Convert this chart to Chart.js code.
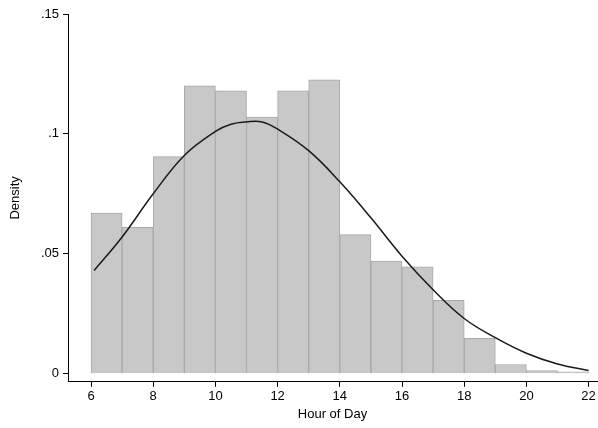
<!DOCTYPE html>
<html><head><script src="https://cdn.jsdelivr.net/npm/chart.js@4"></script>
<style>body{margin:0;background:#fff}#w{width:598px;height:428px}</style></head>
<body><div id="w"><canvas id="c"></canvas></div>
<script>
const binStarts=[6,7,8,9,10,11,12,13,14,15,16,17,18,19,20,21];
const density=[0.067,0.061,0.0905,0.12,0.118,0.107,0.118,0.1225,0.058,0.047,0.0445,0.0306,0.0147,0.0038,0.0013,0.0008];
const kdeX=[6.1,7,8,9,10,10.5,11,11.5,12,13,14,15,16,17,18,19,20,21,22];
const kdeY=[0.043,0.057,0.075,0.091,0.101,0.104,0.105,0.105,0.102,0.093,0.080,0.065,0.049,0.035,0.023,0.015,0.0085,0.004,0.0013];
const xTicks=[6,8,10,12,14,16,18,20,22];
const yTicks=[0,0.05,0.1,0.15];
const yLbl={0:'0',0.05:'.05',0.1:'.1',0.15:'.15'};
Chart.defaults.font.family='Liberation Sans';Chart.defaults.font.size=13;Chart.defaults.color='#000';
const gridOpts={display:true,drawOnChartArea:false,drawTicks:true,tickLength:5,color:'#000',offset:false};
new Chart(document.getElementById('c'),{data:{datasets:[
{type:'line',data:kdeX.map((x,i)=>({x,y:kdeY[i]})),borderColor:'#1a1a1a',borderWidth:1.5,pointRadius:0,tension:0.4,fill:false},
{type:'bar',data:binStarts.map((s,i)=>({x:s+0.5,y:density[i]})),backgroundColor:'#c8c8c8',borderColor:'#a8a8a8',borderWidth:1,barPercentage:1,categoryPercentage:1,grouped:false}
]},options:{responsive:true,maintainAspectRatio:false,animation:false,
layout:{padding:{top:14,right:1,bottom:6,left:4}},
plugins:{legend:{display:false},tooltip:{enabled:false}},
scales:{x:{type:'linear',offset:false,min:5.26,max:22.27,afterBuildTicks:a=>{a.ticks=xTicks.map(v=>({value:v}))},
grid:gridOpts,border:{color:'#000'},ticks:{maxRotation:0,padding:2},
title:{display:true,text:'Hour of Day',padding:{top:0,bottom:0}}},
y:{min:-0.0034,max:0.15,afterBuildTicks:a=>{a.ticks=yTicks.map(v=>({value:v}))},
grid:gridOpts,border:{color:'#000'},ticks:{padding:4,callback:v=>yLbl[Math.round(v*100)/100]},
afterFit:s=>{s.width=64},
title:{display:true,text:'Density'}}}}});
</script></body></html>
